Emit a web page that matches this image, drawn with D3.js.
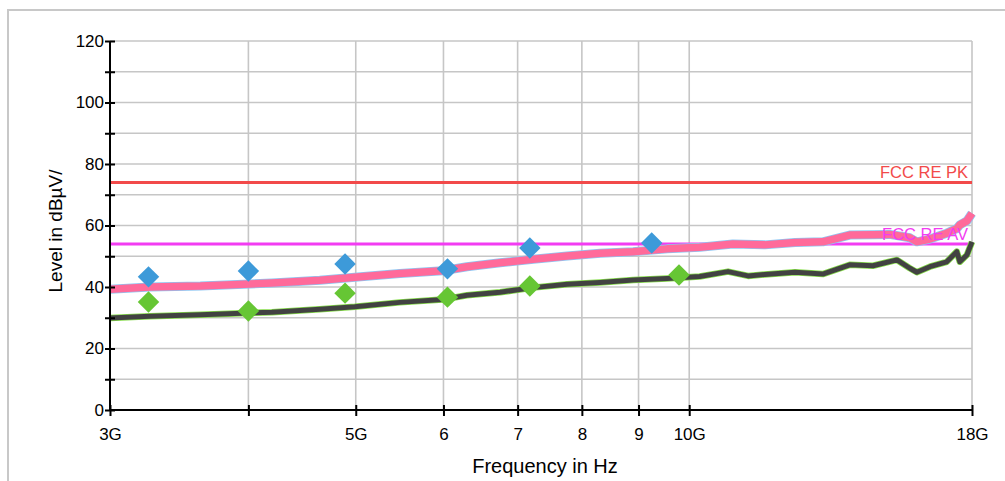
<!DOCTYPE html>
<html>
<head>
<meta charset="utf-8">
<script src="https://cdn.jsdelivr.net/npm/d3@7"></script>
<style>
  body { margin: 0; background: #fff; }
  text { font-family: 'Liberation Sans', Arial, sans-serif; }
</style>
</head>
<body>
<div id="container"></div>
<script>
// frequencies in GHz, levels in dBµV/m
const peakFreq = [3.0, 3.26, 3.62, 4.2, 4.64, 4.99, 5.48, 5.99, 6.3, 6.75, 7.23, 7.76, 8.31, 8.9, 9.55, 10.22, 10.95, 11.7, 12.46, 13.2, 13.96, 14.65, 15.17, 15.82, 16.05, 16.49, 17.08, 17.44, 17.55, 17.81, 18.0];
const peakLevel = [39.3, 40.0, 40.3, 41.3, 42.2, 43.2, 44.4, 45.3, 46.6, 47.9, 49.0, 50.1, 51.0, 51.5, 52.4, 52.9, 54.0, 53.7, 54.5, 54.7, 56.9, 57.0, 57.1, 56.0, 54.7, 55.6, 57.5, 59.0, 60.2, 61.5, 64.0];

const avgFreq = [3.0, 3.26, 3.62, 4.2, 4.64, 4.99, 5.48, 5.99, 6.3, 6.75, 7.23, 7.76, 8.31, 8.9, 9.55, 10.22, 10.84, 11.3, 11.7, 12.46, 13.2, 13.96, 14.65, 15.4, 15.82, 16.05, 16.49, 17.08, 17.44, 17.55, 17.81, 18.0];
const avgLevel = [29.9, 30.5, 31.0, 31.8, 32.8, 33.6, 35.0, 35.9, 37.3, 38.3, 39.8, 40.9, 41.5, 42.3, 42.8, 43.4, 45.0, 43.6, 44.1, 44.8, 44.2, 47.2, 46.9, 48.8, 46.1, 44.8, 46.6, 48.2, 51.5, 48.2, 50.4, 54.7];

const pkMarkFreq = [3.25, 4.0, 4.89, 6.05, 7.18, 9.25];
const pkMarkLevel = [43.3, 45.2, 47.5, 45.9, 52.7, 54.3];
const avMarkFreq = [3.25, 4.0, 4.89, 6.05, 7.18, 9.79];
const avMarkLevel = [35.1, 32.2, 38.0, 36.7, 40.3, 43.9];

const limitNames = ['FCC RE PK', 'FCC RE AV'];
const limitLevels = [74, 54];

const xTickValues = [3, 4, 5, 6, 7, 8, 9, 10, 18];
const xTickLabels = ['3G', '', '5G', '6', '7', '8', '9', '10G', '18G'];
const yTickValues = [0, 10, 20, 30, 40, 50, 60, 70, 80, 90, 100, 110, 120];

const svgWidth = 1005,
  svgHeight = 481,
  plotLeft = 110,
  plotRight = 972,
  plotTop = 41,
  plotBottom = 410;

const svg = d3
  .select('#container')
  .append('svg')
  .attr('width', svgWidth)
  .attr('height', svgHeight)
  .style('display', 'block');

// outer frame
svg
  .append('rect')
  .attr('x', 8)
  .attr('y', 10)
  .attr('width', 1100)
  .attr('height', 600)
  .attr('fill', 'none')
  .attr('stroke', '#c8c8c8')
  .attr('stroke-width', 2);

const xScale = d3.scaleLog().domain([3, 18]).range([plotLeft, plotRight]);
const yScale = d3.scaleLinear().domain([0, 120]).range([plotBottom, plotTop]);

// grid
svg
  .append('g')
  .selectAll('line')
  .data(yTickValues.filter((d) => d > 0))
  .enter()
  .append('line')
  .attr('x1', plotLeft)
  .attr('x2', plotRight)
  .attr('y1', (d) => yScale(d))
  .attr('y2', (d) => yScale(d))
  .attr('stroke', '#c6c6c6')
  .attr('stroke-width', 1.6);

svg
  .append('g')
  .selectAll('line')
  .data(xTickValues.filter((d) => d > 3))
  .enter()
  .append('line')
  .attr('x1', (d) => xScale(d))
  .attr('x2', (d) => xScale(d))
  .attr('y1', plotTop)
  .attr('y2', plotBottom)
  .attr('stroke', '#c6c6c6')
  .attr('stroke-width', 1.6);

// limit lines
const limitColors = ['#f24a4a', '#f23cf2'];
svg
  .append('g')
  .selectAll('line')
  .data(limitLevels)
  .enter()
  .append('line')
  .attr('x1', plotLeft)
  .attr('x2', plotRight)
  .attr('y1', (d) => yScale(d))
  .attr('y2', (d) => yScale(d))
  .attr('stroke', (d, i) => limitColors[i])
  .attr('stroke-width', 3);

// traces
const line = d3
  .line()
  .x((d) => xScale(d[0]))
  .y((d) => yScale(d[1]));

const peakData = peakFreq.map((f, i) => [f, peakLevel[i]]);
const avgData = avgFreq.map((f, i) => [f, avgLevel[i]]);

const drawTrace = (data, color, width) => {
  svg
    .append('path')
    .datum(data)
    .attr('d', line)
    .attr('fill', 'none')
    .attr('stroke', color)
    .attr('stroke-width', width)
    .attr('stroke-linejoin', 'round');
};

drawTrace(avgData, '#86dc4a', 6.5);
drawTrace(avgData, '#424242', 5);
drawTrace(peakData, '#8ec6f2', 9);
drawTrace(peakData, '#ff6a9a', 7.5);

// markers
const diamond = d3.symbol().type(d3.symbolSquare).size(230);
const drawMarks = (freqs, levels, color) => {
  svg
    .append('g')
    .selectAll('path')
    .data(freqs.map((f, i) => [f, levels[i]]))
    .enter()
    .append('path')
    .attr('d', diamond)
    .attr('transform', (d) => `translate(${xScale(d[0])},${yScale(d[1])}) rotate(45)`)
    .attr('fill', color);
};
drawMarks(pkMarkFreq, pkMarkLevel, '#3d9ad9');
drawMarks(avMarkFreq, avMarkLevel, '#66c634');

// limit labels
svg
  .append('g')
  .selectAll('text')
  .data(limitLevels)
  .enter()
  .append('text')
  .attr('x', plotRight - 4)
  .attr('y', (d) => yScale(d) - 4)
  .attr('text-anchor', 'end')
  .attr('font-size', 16.5)
  .attr('fill', (d, i) => limitColors[i])
  .text((d, i) => limitNames[i]);

// axes
const yAxis = d3
  .axisLeft(yScale)
  .tickValues(yTickValues)
  .tickSize(4)
  .tickFormat((d) => (d % 20 === 0 ? d : ''));
const gy = svg.append('g').attr('transform', `translate(${plotLeft},0)`).call(yAxis);
gy.select('.domain').attr('stroke', '#000').attr('stroke-width', 2).attr('d', `M0,${plotTop}V${plotBottom}`);
gy.selectAll('.tick line').attr('x1', 5).attr('x2', -5).attr('stroke-width', 2);
gy.selectAll('.tick text').attr('x', -6).attr('font-size', 17).attr('font-family', null).attr('fill', '#000');

const xAxis = d3
  .axisBottom(xScale)
  .tickValues(xTickValues)
  .tickSize(5)
  .tickFormat((d, i) => xTickLabels[i]);
const gx = svg.append('g').attr('transform', `translate(0,${plotBottom})`).call(xAxis);
gx.select('.domain').attr('stroke', '#000').attr('stroke-width', 2).attr('d', `M${plotLeft},0H${plotRight}`);
gx.selectAll('.tick line').attr('y1', -5).attr('y2', 6).attr('stroke-width', 2);
gx.selectAll('.tick text').attr('y', 18).attr('font-size', 17).attr('font-family', null).attr('fill', '#000');

// axis titles
svg
  .append('text')
  .attr('x', 545)
  .attr('y', 473)
  .attr('text-anchor', 'middle')
  .attr('font-size', 20)
  .text('Frequency in Hz');

svg
  .append('text')
  .attr('transform', 'translate(62,231) rotate(-90)')
  .attr('text-anchor', 'middle')
  .attr('font-size', 19)
  .text('Level in dBµV/');
</script>
</body>
</html>
